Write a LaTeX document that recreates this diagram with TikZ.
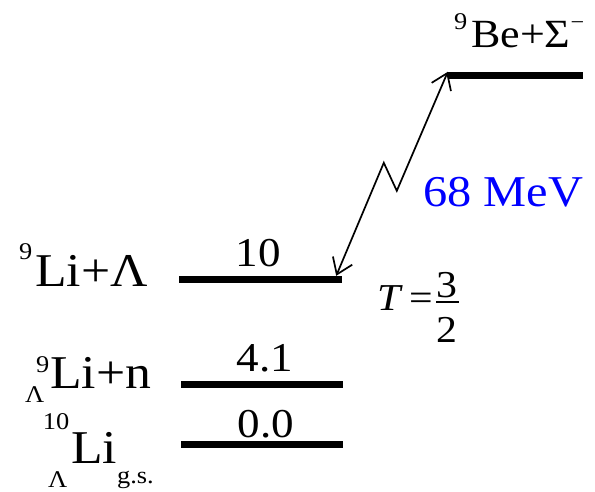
\documentclass[tikz,border=0pt]{standalone}
\usepackage{fontspec}
\setmainfont{Liberation Serif}[FakeStretch=1.1]
\usetikzlibrary{positioning, arrows.meta}
\definecolor{mevblue}{RGB}{0,0,255}

% left-hand prescripts: raise/lower, gap, text
\newcommand{\lsup}[3]{\makebox[0pt][r]{\fontsize{24}{24}\selectfont\raisebox{#1}{#3}\hspace{#2}}}
\newcommand{\lsub}[3]{\makebox[0pt][r]{\fontsize{24}{24}\selectfont\raisebox{-#1}{#3}\hspace{#2}}}
\newcommand{\rsub}[2]{{\fontsize{24}{24}\selectfont\raisebox{-#1}{#2}}}
% stacked fraction drawn with a rule
\newcommand{\vfrac}[2]{\rlap{\raisebox{13pt}{#1}}\rlap{\rule[7pt]{23pt}{1.6pt}}\raisebox{-32pt}{#2}}

\begin{document}
\begin{tikzpicture}[x=1pt,y=-1pt]
  \tikzset{
    level/.style={
      fill=black,
      inner sep=0pt,
      minimum height=7pt
    },
    nucleus/.style={
      font=\fontsize{47}{52}\selectfont,
      inner sep=0pt,
      anchor=base west
    },
    energy/.style={
      font=\fontsize{41}{46}\selectfont,
      inner sep=0pt
    },
    transition/.style={
      line width=1.7pt,
      {Straight Barb[length=15pt,width=21pt]}-{Straight Barb[length=15pt,width=21pt]}
    }
  }
  \useasboundingbox (0,0) rectangle (595,491);

  % Draw the levels
  \node[level, minimum width=163pt] at (260.5,279.5) (lvlten) {};
  \node[level, minimum width=162pt] at (262,384.5) (lvlfour) {};
  \node[level, minimum width=162pt] at (262,444) (lvlzero) {};
  \node[level, minimum width=135pt] at (515.5,75.5) (lvlbe) {};

  % Energies above the levels
  \node[energy, above=9pt of lvlten, xshift=-2pt] (eten) {10};
  \node[energy, above=9pt of lvlfour, xshift=3pt] (efour) {4.1};
  \node[energy, above=2pt of lvlzero, xshift=4pt] (ezero) {0.0};

  % Names of the thresholds
  \node[nucleus] at (35,286) (lilam) {\lsup{27pt}{3pt}{9}Li+Λ};
  \node[nucleus] at (50,388) (lilamn) {\lsup{16pt}{1pt}{9}\lsub{14pt}{6pt}{Λ}Li+n};
  \node[nucleus] at (71,463) (ligs) {\lsup{34pt}{2pt}{10}\lsub{24pt}{4pt}{Λ}Li\rsub{20pt}{g.s.}};
  \node[nucleus, font=\fontsize{40}{44}\selectfont] at (471,47) (besig)
    {\lsup{18pt}{4pt}{9}Be+Σ\raisebox{18pt}{\fontsize{22}{22}\selectfont −}};

  % Conversion and its energy
  \draw[transition] (lvlbe.north west) -- ++(-51,119) coordinate (zigtop)
    -- ++(-13,-28) coordinate (zigbot) -- ([xshift=-6pt]lvlten.north east);
  \node[nucleus, font=\fontsize{44}{48}\selectfont, text=mevblue] at (423,206) (mev) {68 MeV};
  \node[nucleus, font=\fontsize{38}{42}\selectfont] at (377,310) (isospin)
    {\textit{T}\hspace{7pt}=\hspace{3pt}\vfrac{3}{2}};
\end{tikzpicture}
\end{document}
